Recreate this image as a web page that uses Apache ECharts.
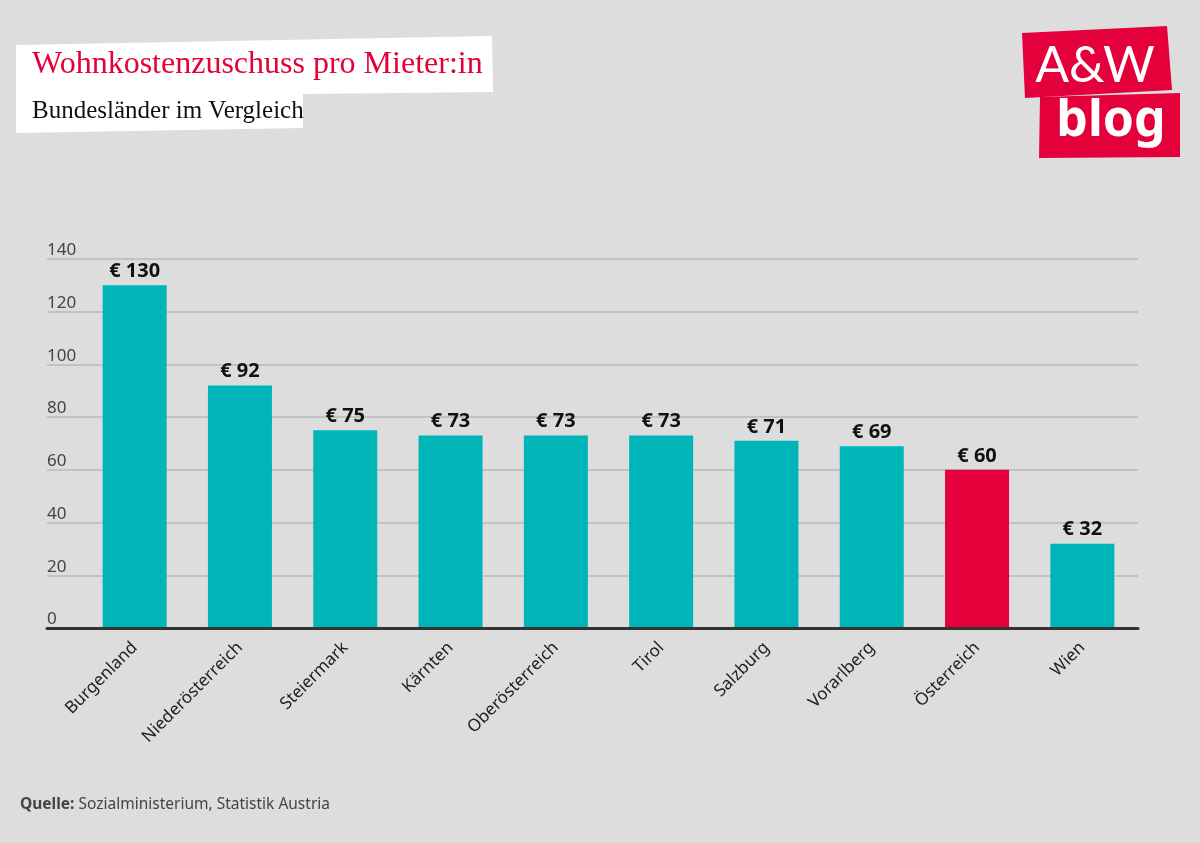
<!DOCTYPE html>
<html><head><meta charset="utf-8">
<script src="https://cdn.jsdelivr.net/npm/echarts@6/dist/echarts.min.js"></script>
<style>html,body{margin:0;padding:0;background:#dddddd;}#c{width:1200px;height:843px;}</style>
</head><body><div id="c"></div>
<script>
const categories = ['Burgenland','Niederösterreich','Steiermark','Kärnten','Oberösterreich','Tirol','Salzburg','Vorarlberg','Österreich','Wien'];
const values = [130, 92, 75, 73, 73, 73, 71, 69, 60, 32];
const highlight = 'Österreich';
const yTicks = [0, 20, 40, 60, 80, 100, 120, 140];
const title = 'Wohnkostenzuschuss pro Mieter:in';
const subtitle = 'Bundesländer im Vergleich';
const source = 'Sozialministerium, Statistik Austria';

const TEAL = '#00b5b8', RED = '#e4003a';
const yMin = yTicks[0], yMax = yTicks[yTicks.length-1], yStep = yTicks[1]-yTicks[0];

const chart = echarts.init(document.getElementById('c'));
chart.setOption({
  backgroundColor: '#dddddd',
  animation: false,
  grid: [
    {left: 47, right: 62, top: 259, bottom: 215},
    {left: 82, right: 65, top: 259, bottom: 215}
  ],
  xAxis: [
    {gridIndex: 0, type: 'value', min: 0, max: 1, z: 10,
     axisLine: {show: true, lineStyle: {color: '#333', width: 3}},
     axisTick: {show: false}, axisLabel: {show: false}, splitLine: {show: false}},
    {gridIndex: 1, type: 'category', data: categories,
     axisLine: {show: false}, axisTick: {show: false},
     axisLabel: {rotate: 45, margin: 17, color: '#222', fontSize: 17, fontFamily: 'Noto Sans', interval: 0}}
  ],
  yAxis: [
    {gridIndex: 0, type: 'value', min: yMin, max: yMax, interval: yStep,
     axisLine: {show: false}, axisTick: {show: false},
     axisLabel: {inside: true, margin: 0, align: 'left', verticalAlign: 'bottom', padding: [0,0,0,0],
                 color: '#444', fontSize: 17, fontFamily: 'Noto Sans'},
     splitLine: {lineStyle: {color: '#b8b8b8', width: 1.5}}},
    {gridIndex: 1, type: 'value', min: yMin, max: yMax, interval: yStep, show: false, splitLine: {show: false}}
  ],
  series: [{
    type: 'bar', xAxisIndex: 1, yAxisIndex: 1, barWidth: 64,
    data: values.map((v, i) => ({value: v, itemStyle: {color: categories[i] === highlight ? RED : TEAL}})),
    label: {show: true, position: 'top', distance: 4, color: '#111', fontWeight: 'bold', fontSize: 20,
            fontFamily: 'Noto Sans', formatter: p => '€ ' + p.value}
  }],
  graphic: [
    {type: 'polygon', shape: {points: [[16,45],[492,36],[493,92],[303,94],[303,128],[16,133]]}, style: {fill: '#fff'}},
    {type: 'text', left: 32, top: 49, style: {text: title, fill: RED, font: '32px "Liberation Serif"'}},
    {type: 'text', left: 32, top: 99, style: {text: subtitle, fill: '#111', font: '25px "Liberation Serif"'}},
    {type: 'polygon', shape: {points: [[1022,33],[1167,26],[1172,90],[1025,98]]}, style: {fill: RED}},
    {type: 'polygon', shape: {points: [[1040,97],[1180,93],[1180,157],[1039,158]]}, style: {fill: RED}},
    {type: 'text', x: 1095, y: 66, style: {text: 'A&W', fill: '#fff', font: '50px Lato', align: 'center', verticalAlign: 'middle'}},
    {type: 'text', x: 1111, y: 122, style: {text: 'blog', fill: '#fff', font: 'bold 50px "Noto Sans"', align: 'center', verticalAlign: 'middle'}},
    {type: 'text', left: 20, top: 797, style: {
      text: '{b|Quelle:} ' + source,
      font: '15.5px "Noto Sans"', fill: '#444',
      rich: {b: {fontWeight: 'bold', fontSize: 15.5, fontFamily: 'Noto Sans', fill: '#444'}}}}
  ]
});
</script></body></html>
